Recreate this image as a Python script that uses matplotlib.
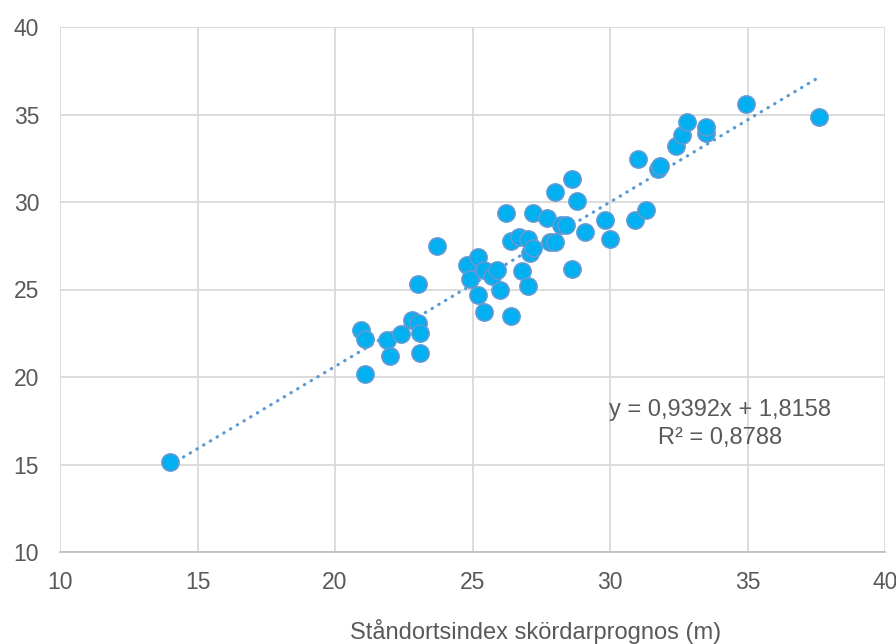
import matplotlib
matplotlib.use("Agg")
import matplotlib.pyplot as plt
import numpy as np

plt.rcParams['font.family'] = ['Liberation Sans', 'DejaVu Sans']

x_vals = [14.0, 20.95, 21.1, 21.1, 21.9, 22.0, 22.4, 22.8, 23.0, 23.0, 23.1, 23.1,
          23.7, 24.8, 24.9, 25.2, 25.2, 25.4, 25.4, 25.7, 25.9, 26.0, 26.2, 26.4,
          26.4, 26.7, 26.8, 27.0, 27.0, 27.1, 27.2, 27.2, 27.7, 27.8, 28.0, 28.0,
          28.2, 28.4, 28.6, 28.6, 28.8, 29.1, 29.8, 30.0, 30.9, 31.0, 31.3, 31.75,
          31.8, 32.4, 32.6, 32.8, 33.5, 33.5, 34.95, 37.6]
y_vals = [15.15, 22.7, 22.2, 20.2, 22.1, 21.2, 22.45, 23.25, 23.1, 25.3, 22.5, 21.4,
          27.5, 26.4, 25.6, 26.85, 24.7, 26.1, 23.7, 25.8, 26.1, 25.0, 29.4, 27.8,
          23.5, 28.0, 26.05, 27.9, 25.2, 27.1, 27.4, 29.4, 29.1, 27.7, 27.7, 30.6,
          28.7, 28.7, 31.3, 26.2, 30.05, 28.3, 29.0, 27.9, 29.0, 32.45, 29.55, 31.9,
          32.05, 33.2, 33.85, 34.6, 33.95, 34.3, 35.6, 34.85]
slope = 0.9392
intercept = 1.8158
r2_label = "R² = 0,8788"
eq_label = "y = 0,9392x + 1,8158"
xlabel = "Ståndortsindex skördarprognos (m)"
ticks = [10, 15, 20, 25, 30, 35, 40]

fig = plt.figure(figsize=(8.96, 6.44), dpi=100)
ax = fig.add_axes([60/896, 1-552/644, (885-60)/896, (552-27)/644])

ax.set_xlim(10, 40)
ax.set_ylim(10, 40)
ax.set_xticks(ticks)
ax.set_yticks(ticks)
ax.grid(True, color='#D9D9D9', linewidth=1.3, zorder=0)
for s in ['top', 'right', 'left']:
    ax.spines[s].set_visible(False)
ax.spines['bottom'].set_color('#BFBFBF')
ax.spines['bottom'].set_linewidth(1.3)
ax.tick_params(length=0, labelsize=16.5, colors='#595959')
ax.tick_params(axis='x', pad=14)
ax.tick_params(axis='y', pad=15)

xs = np.array(x_vals)
xl = np.array([xs.min(), xs.max()])
ax.plot(xl, slope*xl + intercept, linestyle=(0, (0.15, 2.3)), color='#5B9BD5',
        linewidth=2.3, dash_capstyle='round', zorder=2)
ax.scatter(x_vals, y_vals, s=150, color='#00B0F0', edgecolors='#5B9BD5',
           linewidths=1.3, zorder=3)

fig.text(720/896, 1-410/644, eq_label, ha='center', va='center', fontsize=17, color='#595959')
fig.text(720/896, 1-438/644, r2_label, ha='center', va='center', fontsize=17, color='#595959')
fig.text(536/896, 1-631/644, xlabel, ha='center', va='center', fontsize=17, color='#595959')

fig.savefig('out.png', dpi=100)
